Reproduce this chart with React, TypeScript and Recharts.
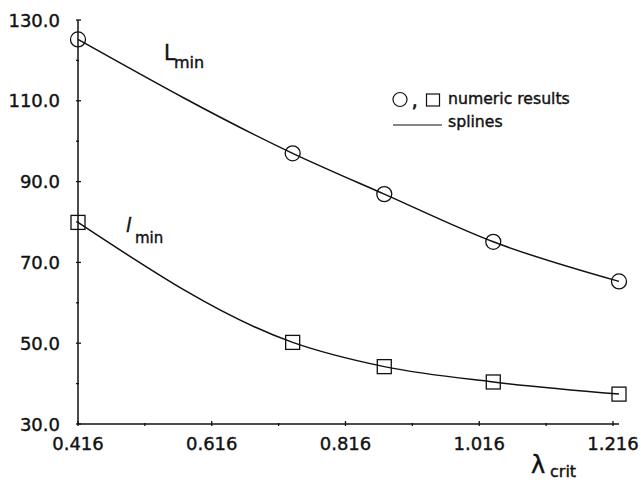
import { LineChart, Line, XAxis, YAxis } from 'recharts';

const lambdaCrit = [0.416, 0.737, 0.874, 1.037, 1.225];
const bigLMin = [125.2, 97.0, 86.9, 75.1, 65.3];
const smallLMin = [79.9, 50.2, 44.2, 40.4, 37.4];

const xTicks = [0.416, 0.516, 0.616, 0.716, 0.816, 0.916, 1.016, 1.116, 1.216];
const xLabels = ['0.416', '', '0.616', '', '0.816', '', '1.016', '', '1.216'];
const yTicks = [30, 40, 50, 60, 70, 80, 90, 100, 110, 120, 130];
const yLabels = ['30.0', '', '50.0', '', '70.0', '', '90.0', '', '110.0', '', '130.0'];

const data = lambdaCrit.map((x, i) => ({ x, L: bigLMin[i], l: smallLMin[i] }));

const FONT = '"DejaVu Sans", Verdana, sans-serif';
const INK = '#111';
// slight outline so the text reads as heavy as the scanned original
const heavy = { stroke: INK, strokeWidth: 0.4 };

function XTick(props: any) {
  const { x, y, index } = props;
  const label = xLabels[index];
  const len = label ? 5 : 3;
  return (
    <g>
      <line x1={x} y1={y} x2={x} y2={y - len} stroke={INK} strokeWidth={1.3} />
      {label && (
        <text x={x} y={y + 23.5} textAnchor="middle" fontSize={18} fontFamily={FONT} fill={INK} {...heavy}>
          {label}
        </text>
      )}
    </g>
  );
}

function YTick(props: any) {
  const { x, y, index } = props;
  const label = yLabels[index];
  const len = label ? 5 : 3;
  return (
    <g>
      <line x1={x} y1={y} x2={x + len} y2={y} stroke={INK} strokeWidth={1.3} />
      {label && (
        <text x={x - 16} y={y + 6.5} textAnchor="end" fontSize={18} fontFamily={FONT} fill={INK} {...heavy}>
          {label}
        </text>
      )}
    </g>
  );
}

function CircleDot(props: any) {
  const { cx, cy } = props;
  return <circle cx={cx} cy={cy} r={7.5} fill="none" stroke={INK} strokeWidth={1.3} />;
}

function SquareDot(props: any) {
  const { cx, cy } = props;
  return <rect x={cx - 7} y={cy - 7} width={14} height={14} fill="none" stroke={INK} strokeWidth={1.3} />;
}

export default function App() {
  return (
    <div style={{ position: 'absolute', left: 0, top: 0, width: 641, height: 484, background: '#fff' }}>
      <LineChart width={641} height={484} data={data} margin={{ top: 20, right: 22, left: 0, bottom: 0 }}>
        <XAxis
          type="number"
          dataKey="x"
          domain={[0.416, 1.225]}
          ticks={xTicks}
          interval={0}
          height={60}
          tickSize={0}
          tickLine={false}
          tick={<XTick />}
          axisLine={{ stroke: INK, strokeWidth: 1.5 }}
        />
        <YAxis
          type="number"
          domain={[30, 130]}
          ticks={yTicks}
          interval={0}
          width={78}
          tickSize={0}
          tickLine={false}
          tick={<YTick />}
          axisLine={{ stroke: INK, strokeWidth: 1.5 }}
        />
        <Line
          type="monotoneX"
          dataKey="L"
          stroke={INK}
          strokeWidth={1.5}
          dot={<CircleDot />}
          activeDot={false}
          isAnimationActive={false}
        />
        <Line
          type="monotoneX"
          dataKey="l"
          stroke={INK}
          strokeWidth={1.5}
          dot={<SquareDot />}
          activeDot={false}
          isAnimationActive={false}
        />
      </LineChart>
      <svg width={641} height={484} style={{ position: 'absolute', left: 0, top: 0, pointerEvents: 'none' }}>
        <g fontFamily={FONT} fill={INK} {...heavy}>
          <text x={164} y={60} fontSize={20.5}>L</text>
          <text x={174} y={68} fontSize={16}>min</text>
          <text x={126} y={232} fontSize={19} fontStyle="italic">l</text>
          <text x={135} y={243} fontSize={15}>min</text>

          <text x={412} y={107} fontSize={17} strokeWidth={0.8}>,</text>
          <text x={448} y={104} fontSize={15.7}>numeric results</text>
          <text x={448} y={127} fontSize={15.7}>splines</text>

          <text x={531} y={473} fontSize={24}>λ</text>
          <text x={550} y={477} fontSize={16}>crit</text>
        </g>
        <circle cx={400} cy={99.5} r={7} fill="none" stroke={INK} strokeWidth={1.2} />
        <rect x={426.5} y={94} width={13} height={12} fill="none" stroke={INK} strokeWidth={1.2} />
        <line x1={393} y1={125} x2={442} y2={125} stroke={INK} strokeWidth={1.2} />
      </svg>
    </div>
  );
}
